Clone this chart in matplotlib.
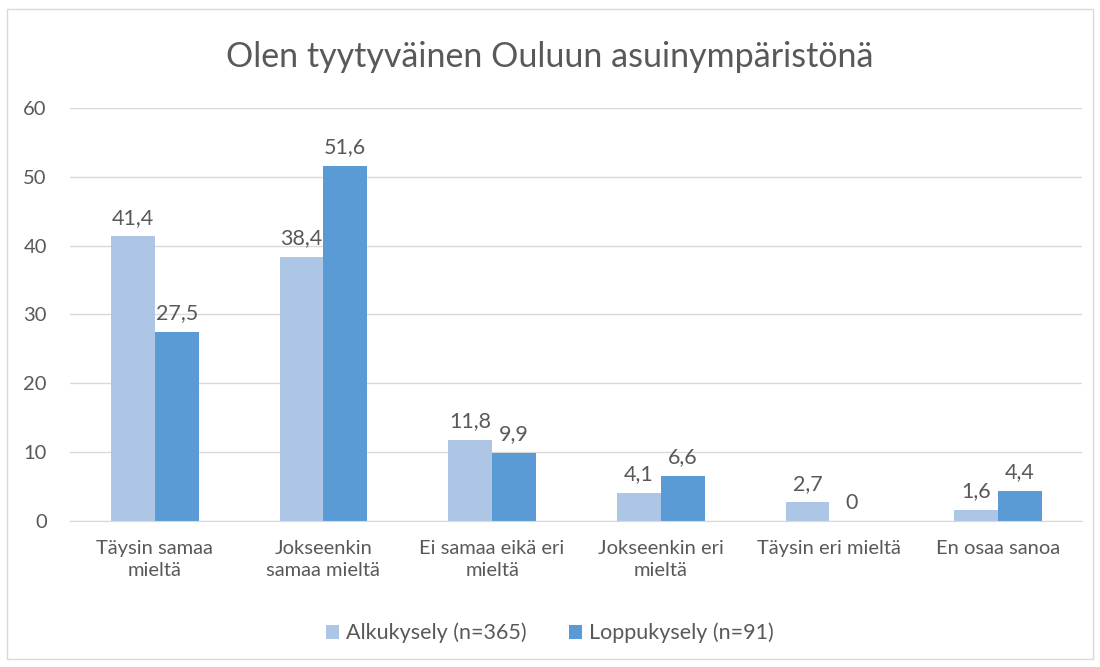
import matplotlib.pyplot as plt
import numpy as np
from matplotlib.patches import Rectangle

plt.rcParams['font.family'] = ['Lato', 'DejaVu Sans']

categories = ['Täysin samaa\nmieltä', 'Jokseenkin\nsamaa mieltä', 'Ei samaa eikä eri\nmieltä',
              'Jokseenkin eri\nmieltä', 'Täysin eri mieltä', 'En osaa sanoa']
alku = [41.4, 38.4, 11.8, 4.1, 2.7, 1.6]
loppu = [27.5, 51.6, 9.9, 6.6, 0, 4.4]
series_names = ['Alkukysely (n=365)', 'Loppukysely (n=91)']
yticks = [0, 10, 20, 30, 40, 50, 60]

txt = '#595959'
c1 = '#AEC6E6'
c2 = '#5B9BD5'

fig = plt.figure(figsize=(11, 6.67), dpi=100)
fig.patches.append(Rectangle((0.006, 0.012), 0.988, 0.975, transform=fig.transFigure,
                             fill=False, edgecolor='#D9D9D9', linewidth=1))
ax = fig.add_axes([0.064, 0.219, 0.92, 0.619])

x = np.arange(len(categories))
w = 0.26
b1 = ax.bar(x - w / 2, alku, w, color=c1, label=series_names[0])
b2 = ax.bar(x + w / 2, loppu, w, color=c2, label=series_names[1])

for bars, vals in [(b1, alku), (b2, loppu)]:
    for r, v in zip(bars, vals):
        lab = f'{v:.1f}'.replace('.', ',') if v != 0 else '0'
        ax.annotate(lab, (r.get_x() + r.get_width() / 2, v), xytext=(0, 6),
                    textcoords='offset points', ha='center', va='bottom',
                    fontsize=15.5, color=txt)

ax.set_xlim(-0.5, len(categories) - 0.5)
ax.set_ylim(0, 60)
ax.set_yticks(yticks)
ax.set_xticks(x)
ax.set_xticklabels(categories, fontsize=14.5, color=txt, linespacing=1.3)
ax.tick_params(axis='y', labelsize=14.5, labelcolor=txt, length=0, pad=17)
ax.tick_params(axis='x', length=0, pad=14)
ax.grid(axis='y', color='#D9D9D9', linewidth=1)
ax.set_axisbelow(True)
for s in ['top', 'right', 'left']:
    ax.spines[s].set_visible(False)
ax.spines['bottom'].set_color('#D9D9D9')

fig.text(0.5, 0.915, 'Olen tyytyväinen Ouluun asuinympäristönä', ha='center', va='center',
         fontsize=24.5, color=txt)

leg = fig.legend(loc='center', bbox_to_anchor=(0.5, 0.051), ncol=2, frameon=False,
                 fontsize=15.5, handlelength=0.6, handleheight=0.6, handletextpad=0.3,
                 columnspacing=2.0)
for t in leg.get_texts():
    t.set_color(txt)

fig.savefig('out.png', dpi=100)
